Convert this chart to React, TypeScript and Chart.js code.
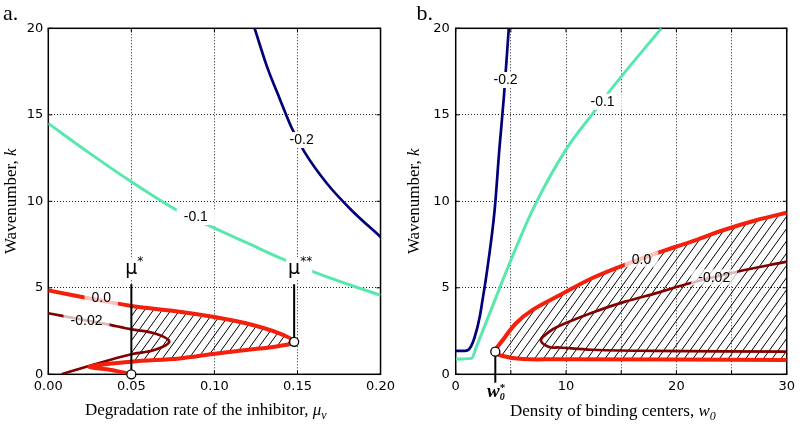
import React, { useEffect, useRef } from 'react';
import { Chart, registerables } from 'chart.js';

Chart.register(...registerables);

type P = [number, number];

// ---------------- Panel a data ----------------
const aXTicks = [0, 0.05, 0.1, 0.15, 0.2];
const aXTickLabels = ['0.00', '0.05', '0.10', '0.15', '0.20'];
const kTicks = [0, 5, 10, 15, 20];
const kTickLabels = ['0', '5', '10', '15', '20'];

const aLevelM02: P[] = [[0.1242, 20], [0.1316, 17.8], [0.1396, 15.86], [0.1462, 14.31], [0.1541, 12.87], [0.168, 11.0], [0.1824, 9.5], [0.2, 7.94]];
const aLevelM01: P[] = [[0, 14.5], [0.025, 12.77], [0.05, 11.13], [0.0764, 9.54], [0.0997, 8.46], [0.12, 7.58], [0.1406, 6.68], [0.1601, 5.91], [0.18, 5.22], [0.2, 4.57]];
const aLevel0: P[] = [[0, 4.85], [0.025, 4.38], [0.05, 3.95], [0.079, 3.62], [0.099, 3.33], [0.119, 2.95], [0.139, 2.37], [0.148, 1.88], [0.139, 1.64], [0.119, 1.4], [0.099, 1.17], [0.079, 0.92], [0.05, 0.73], [0.025, 0.44], [0.038, 0.25], [0.05, 0]];
const aLevelM002: P[] = [[0, 3.53], [0.02, 3.17], [0.035, 2.9], [0.05, 2.6], [0.0638, 2.37], [0.0728, 1.89], [0.0638, 1.4], [0.05, 1.16], [0.028, 0.58], [0.008, 0]];
const aMuStar = 0.05;
const aMuStarStar = 0.148;
const aMuLines: P[][] = [[[0.05, 0], [0.05, 5.2]], [[0.148, 1.88], [0.148, 5.2]]];
const aMarkers: P[] = [[0.05, 0], [0.148, 1.88]];
const aLabels: [string, number, number][] = [['-0.2', 0.1525, 13.54], ['-0.1', 0.0888, 9.09], ['0.0', 0.0319, 4.42], ['-0.02', 0.023, 3.1]];

// ---------------- Panel b data ----------------
const bXTicks = [0, 5, 10, 15, 20, 25, 30];
const bXTickLabels = ['0', '', '10', '', '20', '', '30'];

const bLevelM02: P[] = [[0, 1.35], [0.83, 1.35], [1.28, 1.5], [1.73, 2.17], [2.18, 3.33], [2.48, 4.49], [2.72, 5.45], [3.53, 9.5], [3.95, 12.96], [4.38, 16.14], [4.81, 20]];
const bLevelM01: P[] = [[0, 0.88], [1.44, 0.92], [1.88, 1.6], [2.48, 2.56], [3.08, 3.53], [3.68, 4.49], [4.27, 5.45], [6.97, 9.5], [9.96, 12.96], [12.66, 15.27], [14.15, 16.53], [18.64, 20]];
const bLevel0: P[] = [[30, 9.34], [27.3, 8.92], [24.3, 8.34], [21.3, 7.66], [18.64, 7.09], [15.2, 6.3], [12.35, 5.55], [9.36, 4.55], [6.97, 3.72], [5.47, 2.95], [4.27, 1.98], [3.59, 1.31], [4.27, 1.06], [6.07, 0.88], [9.36, 0.87], [30, 0.83]];
const bLevelM002: P[] = [[30, 6.51], [25.5, 5.93], [21.2, 5.26], [18.34, 4.72], [15.35, 4.2], [12.35, 3.56], [9.36, 2.79], [8.46, 2.45], [7.72, 1.97], [8.46, 1.58], [9.36, 1.55], [12.35, 1.42], [18, 1.35], [30, 1.31]];
const bW0Star = 3.59;
const bW0Line: P[] = [[3.59, 1.31], [3.59, -0.49]];
const bMarkers: P[] = [[3.59, 1.31]];
const bLabels: [string, number, number][] = [['-0.2', 4.52, 17.01], ['-0.1', 13.31, 15.76], ['0.0', 16.84, 6.65], ['-0.02', 23.43, 5.61]];

// ---------------- styling ----------------
const NAVY = '#00007a';
const AQUA = '#58e8ae';
const RED = '#f4200c';
const DARKRED = '#820000';
const SERIF = '"Liberation Serif", "Times New Roman", serif';
const SANS = '"Liberation Sans", Arial, sans-serif';
const TICKFONT = '"DejaVu Sans", sans-serif';

type Part = { t: string; italic?: boolean; bold?: boolean; sub?: boolean; sup?: boolean };

function drawRich(ctx: CanvasRenderingContext2D, parts: Part[], x: number, y: number, align: 'left' | 'center', size: number) {
  const fontFor = (p: Part) => `${p.italic ? 'italic ' : ''}${p.bold ? 'bold ' : ''}${Math.round(p.sub || p.sup ? size * 0.68 : size)}px ${SERIF}`;
  let total = 0;
  for (const p of parts) { ctx.font = fontFor(p); total += ctx.measureText(p.t).width; }
  let cx = align === 'center' ? x - total / 2 : x;
  ctx.textAlign = 'left';
  ctx.textBaseline = 'alphabetic';
  for (const p of parts) {
    ctx.font = fontFor(p);
    const dy = p.sub ? size * 0.28 : p.sup ? -size * 0.45 : 0;
    ctx.fillText(p.t, cx, y + dy);
    cx += ctx.measureText(p.t).width;
  }
}

const toXY = (d: P[]) => d.map(([x, y]) => ({ x, y }));

const curve = (d: P[], color: string, width: number, monotone: boolean, order: number) => ({
  data: toXY(d),
  showLine: true,
  borderColor: color,
  borderWidth: width,
  pointRadius: 0,
  fill: false,
  order,
  ...(monotone ? { cubicInterpolationMode: 'monotone' } : { tension: 0.35 }),
});

type Spec = {
  letter: string;
  xTicks: number[];
  xTickLabels: string[];
  xMax: number;
  yWidth: number;
  padRight: number;
  yTickPad: number;
  datasets: any[];
  hatchIndex: number;
  hatchMinX: number | null;
  labels: [string, number, number][];
  xTitle: Part[];
  xTitleX: number;
  xTitleY: number;
  yTitleX: number;
  extra: (ctx: CanvasRenderingContext2D, x: any, y: any) => void;
};

const panelA: Spec = {
  letter: 'a.',
  xTicks: aXTicks,
  xTickLabels: aXTickLabels,
  xMax: 0.2,
  yWidth: 48.3,
  padRight: 17.3,
  yTickPad: 5,
  datasets: [
    { data: toXY(aMarkers), pointRadius: 4.5, pointBackgroundColor: '#fff', pointBorderColor: '#000', pointBorderWidth: 1.3, showLine: false, clip: false, order: 0 },
    ...aMuLines.map((l) => ({ data: toXY(l), showLine: true, borderColor: '#000', borderWidth: 2, pointRadius: 0, order: 1 })),
    curve(aLevel0, RED, 4, false, 2),
    curve(aLevelM002, DARKRED, 2.7, false, 3),
    curve(aLevelM01, AQUA, 3, true, 4),
    curve(aLevelM02, NAVY, 2.7, true, 4),
  ],
  hatchIndex: 3,
  hatchMinX: aMuStar,
  labels: aLabels,
  xTitle: [{ t: 'Degradation rate of the inhibitor, ' }, { t: 'μ', italic: true }, { t: 'ν', italic: true, sub: true }],
  xTitleX: 85,
  xTitleY: 414.5,
  yTitleX: 15.5,
  extra: (ctx, x, y) => {
    const stars = ['*', '**'];
    [aMuStar, aMuStarStar].forEach((v, i) => {
      const px = x.getPixelForValue(v);
      const py = y.getPixelForValue(5.77);
      ctx.fillStyle = '#fff';
      ctx.fillRect(px - 8, py - 17, i === 0 ? 22 : 26, 22);
      ctx.fillStyle = '#000';
      ctx.font = `19px "DejaVu Sans", sans-serif`;
      ctx.textAlign = 'center';
      ctx.textBaseline = 'alphabetic';
      ctx.fillText('μ', px, py);
      ctx.font = `12px "DejaVu Sans", sans-serif`;
      ctx.textAlign = 'left';
      ctx.fillText(stars[i], px + 6, py - 9);
    });
  },
};

const panelB: Spec = {
  letter: 'b.',
  xTicks: bXTicks,
  xTickLabels: bXTickLabels,
  xMax: 30,
  yWidth: 55.7,
  padRight: 10,
  yTickPad: 6,
  datasets: [
    { data: toXY(bMarkers), pointRadius: 4.5, pointBackgroundColor: '#fff', pointBorderColor: '#000', pointBorderWidth: 1.3, showLine: false, clip: false, order: 0 },
    { data: toXY(bW0Line), showLine: true, borderColor: '#000', borderWidth: 2, pointRadius: 0, clip: false, order: 1 },
    curve(bLevel0, RED, 4, false, 2),
    curve(bLevelM002, DARKRED, 2.7, false, 3),
    curve(bLevelM01, AQUA, 3, true, 4),
    curve(bLevelM02, NAVY, 2.7, true, 4),
  ],
  hatchIndex: 2,
  hatchMinX: null,
  labels: bLabels,
  xTitle: [{ t: 'Density of binding centers, ' }, { t: 'w', italic: true }, { t: '0', italic: true, sub: true }],
  xTitleX: 110,
  xTitleY: 415.5,
  yTitleX: 19,
  extra: (ctx, x, y) => {
    const px = x.getPixelForValue(bW0Star);
    const base = 397;
    ctx.fillStyle = '#000';
    ctx.font = `italic bold 19px ${SERIF}`;
    ctx.textAlign = 'center';
    ctx.textBaseline = 'alphabetic';
    ctx.fillText('w', px - 2, base);
    ctx.textAlign = 'left';
    ctx.font = `italic bold 10px ${SERIF}`;
    ctx.fillText('0', px + 4.5, base + 3);
    ctx.font = `bold 11px ${SERIF}`;
    ctx.fillText('*', px + 4.5, base - 6);
  },
};

function makePlugin(spec: Spec) {
  return {
    id: 'custom' + spec.letter,
    beforeDatasetsDraw(chart: any) {
      const { ctx, chartArea: ca } = chart;
      const x = chart.scales.x;
      const y = chart.scales.y;
      // hatch
      const meta = chart.getDatasetMeta(spec.hatchIndex);
      const line = meta.dataset;
      ctx.save();
      ctx.beginPath();
      ctx.rect(ca.left, ca.top, ca.width, ca.height);
      ctx.clip();
      if (spec.hatchMinX !== null) {
        const px = x.getPixelForValue(spec.hatchMinX);
        ctx.beginPath();
        ctx.rect(px, ca.top, ca.right - px, ca.height);
        ctx.clip();
      }
      line.updateControlPoints(ca, 'x');
      ctx.beginPath();
      line.path(ctx);
      ctx.closePath();
      ctx.clip();
      ctx.strokeStyle = '#000';
      ctx.lineWidth = 1;
      const H = ca.height;
      const r = 0.72;
      ctx.beginPath();
      for (let c = ca.left - H * r; c < ca.right + 10; c += 8.8) {
        ctx.moveTo(c, ca.bottom);
        ctx.lineTo(c + H * r, ca.top);
      }
      ctx.stroke();
      ctx.restore();

      // frame and inner ticks
      ctx.save();
      ctx.strokeStyle = '#000';
      ctx.lineWidth = 1;
      ctx.beginPath();
      for (const v of spec.xTicks) {
        const px = x.getPixelForValue(v);
        ctx.moveTo(px, ca.bottom); ctx.lineTo(px, ca.bottom - 4);
        ctx.moveTo(px, ca.top); ctx.lineTo(px, ca.top + 4);
      }
      for (const v of kTicks) {
        const py = y.getPixelForValue(v);
        ctx.moveTo(ca.left, py); ctx.lineTo(ca.left + 4, py);
        ctx.moveTo(ca.right, py); ctx.lineTo(ca.right - 4, py);
      }
      ctx.stroke();
      ctx.lineWidth = 1.5;
      ctx.strokeRect(ca.left, ca.top, ca.width, ca.height);
      ctx.restore();
    },
    afterDatasetsDraw(chart: any) {
      const { ctx } = chart;
      const x = chart.scales.x;
      const y = chart.scales.y;
      ctx.save();
      ctx.font = `14px ${SANS}`;
      for (const [text, vx, vk] of spec.labels) {
        const px = x.getPixelForValue(vx);
        const py = y.getPixelForValue(vk);
        const tw = ctx.measureText(text).width;
        const red = text === '0.0' || text === '-0.02';
        ctx.fillStyle = red ? 'rgba(255,255,255,0.72)' : '#fff';
        ctx.fillRect(px - tw / 2 - 7, py - 8, tw + 14, 16);
        ctx.fillStyle = '#000';
        ctx.textAlign = 'center';
        ctx.textBaseline = 'middle';
        ctx.fillText(text, px, py + 0.5);
      }
      ctx.restore();
    },
    afterDraw(chart: any) {
      const { ctx, chartArea: ca } = chart;
      const x = chart.scales.x;
      const y = chart.scales.y;
      ctx.save();
      ctx.fillStyle = '#000';
      // panel letter
      ctx.font = `22px ${SERIF}`;
      ctx.textAlign = 'left';
      ctx.textBaseline = 'alphabetic';
      ctx.fillText(spec.letter, spec.letter === 'a.' ? 3 : 16.5, 19.5);
      // x title
      drawRich(ctx, spec.xTitle, spec.xTitleX, spec.xTitleY, 'left', 17);
      // y title
      ctx.save();
      ctx.translate(spec.yTitleX, (ca.top + ca.bottom) / 2);
      ctx.rotate(-Math.PI / 2);
      drawRich(ctx, [{ t: 'Wavenumber, ' }, { t: 'k', italic: true }], 0, 0, 'center', 17);
      ctx.restore();
      spec.extra(ctx, x, y);
      ctx.restore();
    },
  };
}

function buildConfig(spec: Spec): any {
  return {
    type: 'scatter',
    data: { datasets: spec.datasets },
    options: {
      responsive: false,
      animation: false,
      devicePixelRatio: 1,
      events: [],
      layout: { padding: { left: 0, top: 28.3, right: spec.padRight, bottom: 0 } },
      plugins: { legend: { display: false }, tooltip: { enabled: false } },
      scales: {
        x: {
          type: 'linear',
          min: 0,
          max: spec.xMax,
          afterBuildTicks: (scale: any) => { scale.ticks = spec.xTicks.map((v) => ({ value: v })); },
          afterFit: (scale: any) => { scale.height = 49.7; },
          ticks: {
            autoSkip: false,
            maxRotation: 0,
            padding: 5,
            color: '#000',
            font: { family: TICKFONT, size: 13 },
            callback: (_v: any, i: number) => spec.xTickLabels[i],
          },
          grid: { color: '#222', lineWidth: 1, drawTicks: false },
          border: { display: false, dash: [1, 2] },
        },
        y: {
          type: 'linear',
          min: 0,
          max: 20,
          afterBuildTicks: (scale: any) => { scale.ticks = kTicks.map((v) => ({ value: v })); },
          afterFit: (scale: any) => { scale.width = spec.yWidth; },
          ticks: {
            autoSkip: false,
            padding: spec.yTickPad,
            color: '#000',
            font: { family: TICKFONT, size: 13 },
            callback: (_v: any, i: number) => kTickLabels[i],
          },
          grid: { color: '#222', lineWidth: 1, drawTicks: false },
          border: { display: false, dash: [1, 2] },
        },
      },
    },
    plugins: [makePlugin(spec)],
  };
}

function Panel({ spec, left }: { spec: Spec; left: number }) {
  const ref = useRef<HTMLCanvasElement>(null);
  useEffect(() => {
    const chart = new Chart(ref.current as HTMLCanvasElement, buildConfig(spec));
    return () => chart.destroy();
  }, [spec]);
  return (
    <canvas
      ref={ref}
      width={400}
      height={424}
      style={{ position: 'absolute', left, top: 0, width: 400, height: 424 }}
    />
  );
}

export default function App() {
  return (
    <div style={{ position: 'fixed', left: 0, top: 0, width: 800, height: 424, background: '#fff', overflow: 'hidden' }}>
      <Panel spec={panelA} left={0} />
      <Panel spec={panelB} left={400} />
    </div>
  );
}
